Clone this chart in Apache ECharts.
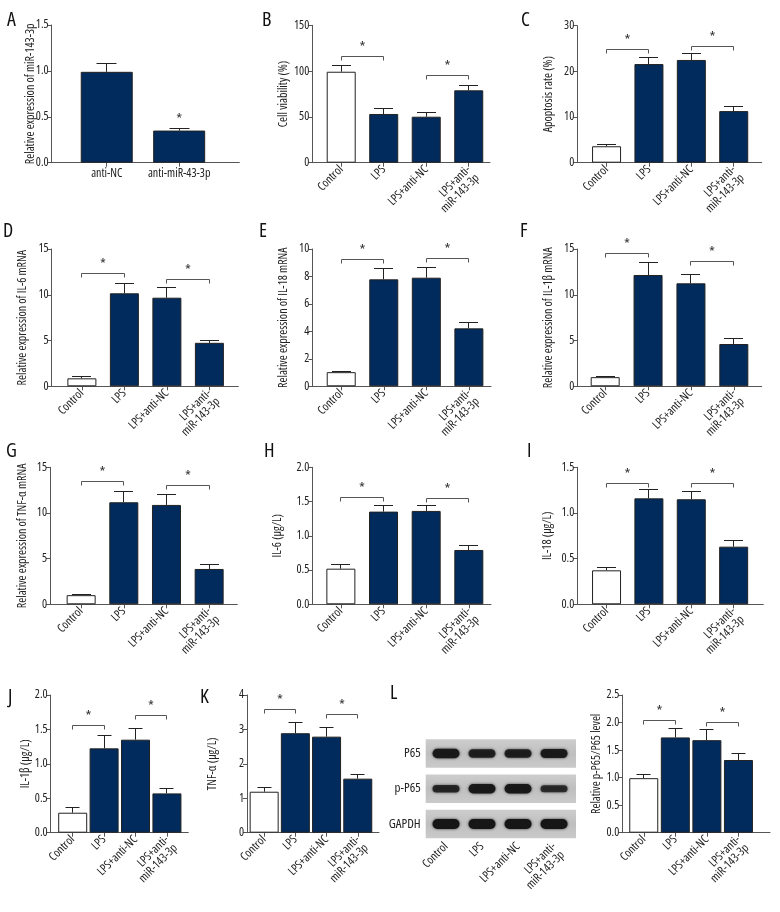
<!DOCTYPE html>
<html><head><meta charset="utf-8">
<script src="https://cdn.jsdelivr.net/npm/echarts@6/dist/echarts.min.js"></script>
<style>html,body{margin:0;padding:0;background:#fff}#c{width:780px;height:912px}</style>
</head><body><div id="c"></div>
<script>
// ---------- data ----------
const cats4 = ['Control','LPS','LPS+anti-NC','\nLPS+anti-\nmiR-143-3p'];
const catsA = ['anti-NC','anti-miR-43-3p'];

const A_ticks=[0,0.5,1.0,1.5], A_mean=[0.99,0.35], A_err=[0.09,0.025], A_star=[[1,0.375]];
const B_ticks=[0,50,100,150], B_mean=[99.3,53.2,50.2,79.0], B_err=[7.0,6.2,4.8,5.8], B_brk=[[0,1,115.7],[2,3,95.4]];
const C_ticks=[0,10,20,30], C_mean=[3.6,21.6,22.5,11.3], C_err=[0.4,1.5,1.5,0.9], C_brk=[[0,1,24.7],[2,3,25.4]];
const D_ticks=[0,5,10,15], D_mean=[0.87,10.16,9.68,4.75], D_err=[0.19,1.09,1.13,0.3], D_brk=[[0,1,12.34],[2,3,11.72]];
const E_ticks=[0,2,4,6,8,10], E_mean=[1.03,7.79,7.91,4.22], E_err=[0.05,0.8,0.73,0.44], E_brk=[[0,1,9.2],[2,3,9.32]];
const F_ticks=[0,5,10,15], F_mean=[1.0,12.16,11.25,4.62], F_err=[0.03,1.34,0.91,0.55], F_brk=[[0,1,14.52],[2,3,13.6]];
const G_ticks=[0,5,10,15], G_mean=[1.0,11.17,10.88,3.87], G_err=[0.1,1.17,1.12,0.51], G_brk=[[0,1,13.47],[2,3,13.0]];
const H_ticks=[0,0.5,1.0,1.5,2.0], H_mean=[0.52,1.353,1.363,0.793], H_err=[0.055,0.087,0.082,0.068], H_brk=[[0,1,1.557],[2,3,1.547]];
const I_ticks=[0,0.5,1.0,1.5], I_mean=[0.372,1.16,1.15,0.631], I_err=[0.033,0.099,0.084,0.069], I_brk=[[0,1,1.325],[2,3,1.325]];
const J_ticks=[0,0.5,1.0,1.5,2.0], J_mean=[0.29,1.225,1.351,0.571], J_err=[0.078,0.185,0.169,0.073], J_brk=[[0,1,1.563],[2,3,1.707]];
const K_ticks=[0,1,2,3,4], K_mean=[1.19,2.89,2.79,1.57], K_err=[0.13,0.31,0.27,0.13], K_brk=[[0,1,3.59],[2,3,3.44]];
const L_ticks=[0,0.5,1.0,1.5,2.0,2.5], L_mean=[0.99,1.73,1.68,1.32], L_err=[0.07,0.16,0.19,0.12], L_brk=[[0,1,2.03],[2,3,1.995]];

const blotRows=['P65','p-P65','GAPDH'];
const blot_P65=[0.9,0.75,0.75,0.85];
const blot_pP65=[0.6,0.9,0.9,0.5];
const blot_GAPDH=[1,1,1,1];

// ---------- layout / style ----------
const navy='#002b5c';
const FAM="'Open Sans','Roboto Condensed',sans-serif";
const COND='condensed';           // font-stretch keyword in the canvas font shorthand
const LAY={
 A:{box:[51.7,25,239.3,162.7],x:[-0.76,1.83],bw:52,cap:20,gap:15,dec:1,rot:0},
 B:{box:[312.3,25.3,490,162.7],x:[-0.68,3.5],bw:29,cap:19,gap:23,dec:0},
 C:{box:[577.3,25.7,761.7,162.7],x:[-0.69,3.66],bw:29,cap:19,gap:23,dec:0},
 D:{box:[51.7,249,238.3,386.3],x:[-0.71,3.68],bw:29,cap:19,gap:23,dec:0},
 E:{box:[312.3,249,491,386.3],x:[-0.68,3.52],bw:29,cap:19,gap:23,dec:0},
 F:{box:[577.3,249,761.7,386.3],x:[-0.65,3.65],bw:29,cap:19,gap:23,dec:0},
 G:{box:[50,467.3,237.3,604.3],x:[-0.73,3.66],bw:29,cap:19,gap:21,dec:0},
 H:{box:[312.3,467.3,491,604.3],x:[-0.67,3.52],bw:29,cap:19,gap:29,dec:1},
 I:{box:[577.3,467.3,763.3,604.3],x:[-0.69,3.7],bw:29,cap:19,gap:23.5,dec:1},
 J:{box:[50.7,695,188.3,832.7],x:[-0.70,3.68],bw:29,cap:14,gap:19,dec:1},
 K:{box:[247,695,379,832.7],x:[-0.55,3.68],bw:29,cap:14,gap:28,dec:0},
 L:{box:[622.3,695,770,832.7],x:[-0.68,4.0],bw:29,cap:14,gap:20,dec:1}
};
const panels=[
 {key:'A',cats:catsA,ticks:A_ticks,mean:A_mean,err:A_err,brk:[],star:A_star,white:[],name:'Relative expression of miR-143-3p'},
 {key:'B',cats:cats4,ticks:B_ticks,mean:B_mean,err:B_err,brk:B_brk,star:[],white:[0],name:'Cell viability (%)'},
 {key:'C',cats:cats4,ticks:C_ticks,mean:C_mean,err:C_err,brk:C_brk,star:[],white:[0],name:'Apoptosis rate (%)'},
 {key:'D',cats:cats4,ticks:D_ticks,mean:D_mean,err:D_err,brk:D_brk,star:[],white:[0],name:'Relative expression of IL-6 mRNA'},
 {key:'E',cats:cats4,ticks:E_ticks,mean:E_mean,err:E_err,brk:E_brk,star:[],white:[0],name:'Relative expression of IL-18 mRNA'},
 {key:'F',cats:cats4,ticks:F_ticks,mean:F_mean,err:F_err,brk:F_brk,star:[],white:[0],name:'Relative expression of IL-1β mRNA'},
 {key:'G',cats:cats4,ticks:G_ticks,mean:G_mean,err:G_err,brk:G_brk,star:[],white:[0],name:'Relative expression of TNF-α mRNA'},
 {key:'H',cats:cats4,ticks:H_ticks,mean:H_mean,err:H_err,brk:H_brk,star:[],white:[0],name:'IL-6 (μg/L)'},
 {key:'I',cats:cats4,ticks:I_ticks,mean:I_mean,err:I_err,brk:I_brk,star:[],white:[0],name:'IL-18 (μg/L)'},
 {key:'J',cats:cats4,ticks:J_ticks,mean:J_mean,err:J_err,brk:J_brk,star:[],white:[0],name:'IL-1β (μg/L)'},
 {key:'K',cats:cats4,ticks:K_ticks,mean:K_mean,err:K_err,brk:K_brk,star:[],white:[0],name:'TNF-α (μg/L)'},
 {key:'L',cats:cats4,ticks:L_ticks,mean:L_mean,err:L_err,brk:L_brk,star:[],white:[0],name:'Relative p-P65/P65 level'}
];
const letters=[['A',7,20],['B',262,20],['C',521,20],['D',3,231],['E',259,231],['F',520,231],
 ['G',6,451],['H',264,451],['I',527,451],['J',8,697],['K',200,697],['L',390,693]];

function crisp(v){return Math.round(v-0.5)+0.5;}
const AX='#555', TXT='#222';
function tstyle(size){return {fontSize:size,fontFamily:FAM,fontWeight:COND,color:TXT};}
function zfont(size){return COND+' '+size+'px '+FAM;}
// category labels at integer positions; the two axis-end entries are blank placeholders (hidden)
function catLabel(cats){return v=>(Number.isInteger(v)&&v>=0&&v<cats.length)?cats[v]:'';}

function errRender(cap){return function(params,api){
  const i=api.value(0),m=api.value(1),e=api.value(2);
  const p0=api.coord([i,m]),p1=api.coord([i,m+e]);
  const x=crisp(p0[0]),y1=crisp(p1[1]);
  return {type:'group',children:[
    {type:'line',shape:{x1:x,y1:p0[1],x2:x,y2:y1},style:{stroke:'#222',lineWidth:1}},
    {type:'line',shape:{x1:x-cap/2,y1:y1,x2:x+cap/2,y2:y1},style:{stroke:'#222',lineWidth:1}}]};
};}
function brkRender(params,api){
  const a=api.coord([api.value(0),api.value(2)]),b=api.coord([api.value(1),api.value(2)]);
  const y=crisp(a[1]),x1=crisp(a[0]),x2=crisp(b[0]);
  return {type:'group',children:[
    {type:'polyline',shape:{points:[[x1,y+4],[x1,y],[x2,y],[x2,y+4]]},style:{stroke:'#555',fill:'none',lineWidth:1}},
    {type:'text',x:(x1+x2)/2,y:y-1,style:{text:'*',align:'center',verticalAlign:'bottom',font:zfont(15),fill:'#333'}}]};
}
function starRender(params,api){
  const p=api.coord([api.value(0),api.value(1)]);
  return {type:'text',x:p[0],y:p[1]-1,style:{text:'*',align:'center',verticalAlign:'bottom',font:zfont(15),fill:'#333'}};
}

const grid=[],xAxis=[],yAxis=[],series=[];
panels.forEach((p,k)=>{
  const g=LAY[p.key]; const [l,t,r,b]=g.box;
  grid.push({left:l,top:t,width:r-l,height:b-t,outerBoundsMode:'none'});
  const vals=[g.x[0]].concat(p.cats.map((_,i)=>i),[g.x[1]]);
  xAxis.push({gridIndex:k,type:'value',min:g.x[0],max:g.x[1],
    axisLine:{show:true,onZero:false,lineStyle:{color:AX}},
    axisTick:{show:true,customValues:vals,length:4,lineStyle:{color:AX}},
    axisLabel:Object.assign({customValues:vals,formatter:catLabel(p.cats),rotate:(g.rot===undefined?45:g.rot),
      margin:5,lineHeight:12,showMinLabel:false,showMaxLabel:false,hideOverlap:false},tstyle(12)),
    splitLine:{show:false}});
  yAxis.push({gridIndex:k,type:'value',min:p.ticks[0],max:p.ticks[p.ticks.length-1],
    axisLine:{show:true,onZero:false,lineStyle:{color:AX}},
    axisTick:{show:true,customValues:p.ticks,length:4,lineStyle:{color:AX}},
    axisLabel:Object.assign({customValues:p.ticks,formatter:v=>Number(v).toFixed(g.dec),margin:3,showMinLabel:true,showMaxLabel:true},tstyle(12)),
    splitLine:{show:false},
    name:p.name,nameLocation:'middle',nameGap:g.gap,nameMoveOverlap:false,nameTextStyle:tstyle(12)});
  series.push({type:'bar',xAxisIndex:k,yAxisIndex:k,barWidth:g.bw,silent:true,
    data:p.mean.map((v,i)=>({value:[i,v],itemStyle:{color:p.white.includes(i)?'#fff':navy}})),
    itemStyle:{borderColor:'#222',borderWidth:1}});
  series.push({type:'custom',xAxisIndex:k,yAxisIndex:k,z:5,silent:true,
    data:p.mean.map((v,i)=>[i,v,p.err[i]]),renderItem:errRender(g.cap)});
  if(p.brk.length) series.push({type:'custom',xAxisIndex:k,yAxisIndex:k,z:5,silent:true,data:p.brk,renderItem:brkRender});
  if(p.star.length) series.push({type:'custom',xAxisIndex:k,yAxisIndex:k,z:5,silent:true,data:p.star,renderItem:starRender});
});

// ---------- western blot panel ----------
const bk=panels.length;
const bx=[-0.564,3.61];
const bvals=[bx[0],0,1,2,3,bx[1]];
grid.push({left:425.7,top:735.9,width:150.3,height:105.7,outerBoundsMode:'none'});
xAxis.push({gridIndex:bk,type:'value',min:bx[0],max:bx[1],axisLine:{show:false},axisTick:{show:false},splitLine:{show:false},
  axisLabel:Object.assign({customValues:bvals,formatter:catLabel(cats4),rotate:45,margin:3,lineHeight:12,
    showMinLabel:false,showMaxLabel:false,hideOverlap:false},tstyle(12))});
yAxis.push({gridIndex:bk,type:'value',inverse:true,min:-0.5,max:2.5,axisLine:{show:false},axisTick:{show:false},splitLine:{show:false},
  axisLabel:Object.assign({customValues:[0,1,2],formatter:v=>blotRows[Math.round(v)],margin:5,showMinLabel:true,showMaxLabel:true},tstyle(13))});
series.push({type:'custom',xAxisIndex:bk,yAxisIndex:bk,z:1,silent:true,data:blotRows.map((_,r)=>[0,r]),
  renderItem:function(params,api){
    const c=api.coord([0,api.value(1)]),cs=params.coordSys;
    return {type:'rect',shape:{x:cs.x,y:c[1]-14.2,width:cs.width,height:28.4},
      style:{fill:new echarts.graphic.LinearGradient(0,0,0,1,[{offset:0,color:'#cdcdcd'},{offset:0.5,color:'#bfbfbf'},{offset:1,color:'#cacaca'}])}};
  }});
const bandData=[];
[blot_P65,blot_pP65,blot_GAPDH].forEach((row,r)=>row.forEach((it,lane)=>bandData.push([lane,r,it])));
series.push({type:'custom',xAxisIndex:bk,yAxisIndex:bk,z:3,silent:true,data:bandData,
  renderItem:function(params,api){
    const c=api.coord([api.value(0),api.value(1)]),it=api.value(2);
    const w=27,h=4+6*it;
    return {type:'rect',shape:{x:c[0]-w/2,y:c[1]-h/2,width:w,height:h,r:h/2},
      style:{fill:'rgba(22,22,22,'+(0.55+0.45*it)+')',shadowBlur:3,shadowColor:'rgba(22,22,22,0.8)'}};
  }});

const chart=echarts.init(document.getElementById('c'),null,{renderer:'canvas'});
chart.setOption({animation:false,backgroundColor:'#fff',grid,xAxis,yAxis,series,
  graphic:letters.map(([t,x,y])=>({type:'text',x:x,y:y,style:{text:t,font:zfont(20),fill:'#111',verticalAlign:'middle'}}))});
</script></body></html>
